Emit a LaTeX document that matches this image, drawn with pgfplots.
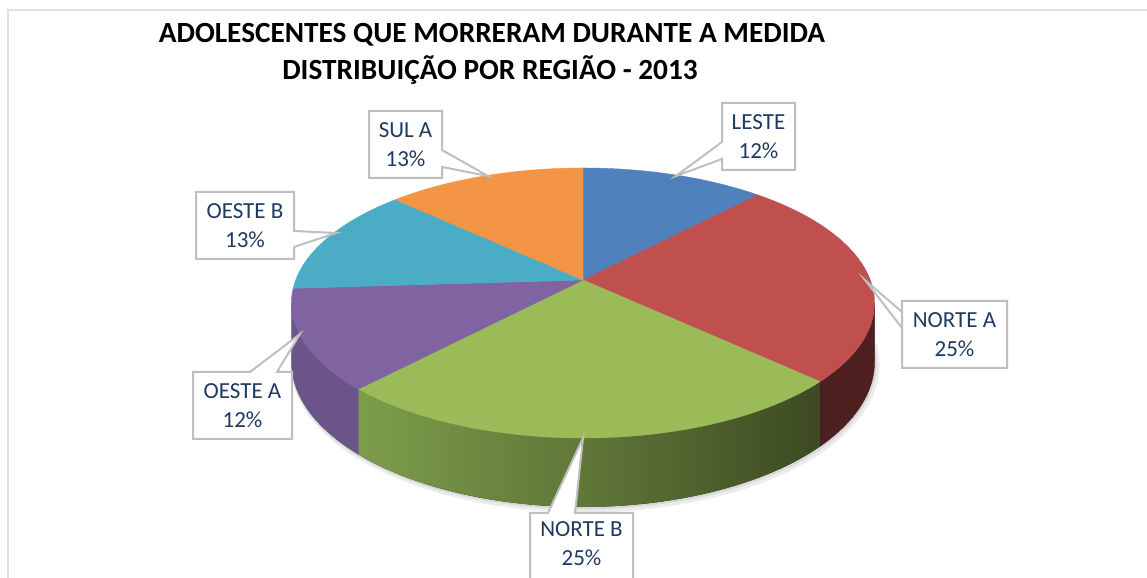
\documentclass[border=0pt]{standalone}
\usepackage{pgfplots}
\pgfplotsset{compat=1.18}
\usepgfplotslibrary{fillbetween}
\tikzset{fill between/on layer=main}
\usepackage{fontspec}
\setmainfont{Carlito}
\definecolor{cLeste}{HTML}{4F81BD}
\definecolor{cNorteA}{HTML}{C0504D}
\definecolor{cNorteB}{HTML}{9BBB59}
\definecolor{cOesteA}{HTML}{8064A2}
\definecolor{cOesteB}{HTML}{4BACC6}
\definecolor{cSulA}{HTML}{F39544}
\definecolor{sNorteA}{HTML}{4E1F1F}
\definecolor{sOesteA}{HTML}{6B5489}
\definecolor{sGreenL}{HTML}{7D9D4A}
\definecolor{sGreenM}{HTML}{5F7638}
\definecolor{sGreenR}{HTML}{3D4A22}
\definecolor{labtxt}{HTML}{1F3A60}
\definecolor{boxgray}{HTML}{BFBFBF}
\definecolor{frameblue}{HTML}{D6E2F1}
% percentages (clockwise from 12 o'clock)
\def\pLeste{12}\def\pNorteA{25}\def\pNorteB{25}\def\pOesteA{12}\def\pOesteB{13}\def\pSulA{13}
\pgfmathsetmacro\aA{90}
\pgfmathsetmacro\aB{\aA-3.6*\pLeste}
\pgfmathsetmacro\aC{\aB-3.6*\pNorteA}
\pgfmathsetmacro\aD{\aC-3.6*\pNorteB}
\pgfmathsetmacro\aE{\aD-3.6*\pOesteA}
\pgfmathsetmacro\aF{\aE-3.6*\pOesteB}
\pgfmathsetmacro\aG{\aF-3.6*\pSulA}
% perspective projection parameters (pixels)
\def\CX{583}\def\CY{298}\def\RX{287.3}\def\RY{131.1}\def\KK{0.1704}\def\HH{57.2}
\pgfmathsetmacro\sil{asin(\KK)}
\newcommand{\topx}{{\CX+\RX*cos(x)/(1+\KK*sin(x))}}
\newcommand{\topy}{{\CY+\RY*sin(x)/(1+\KK*sin(x))}}
\newcommand{\boty}{{\CY+(\RY*sin(x)-\HH)/(1+\KK*sin(x))}}
\newcommand{\slice}[3]{\addplot[fill=#1,draw=#1,line width=0.2pt,domain=#3:#2,samples=60] (\topx,\topy) -- (axis cs:\CX,\CY) -- cycle;}
\newcommand{\callout}[1]{\draw[boxgray,line width=1pt,fill=white] #1;}
\newcommand{\px}[2]{(axis cs:#1,{578-#2})}
\begin{document}
\begin{tikzpicture}
\begin{axis}[
  width=573.5pt, height=289pt, scale only axis,
  xmin=0, xmax=1147, ymin=0, ymax=578,
  hide axis, clip=true,
]
\fill[white] (axis cs:0,0) rectangle (axis cs:1147,578);
\draw[frameblue,line width=1pt] \px{8}{10} rectangle \px{1170}{600};
% shadow
\addplot[draw=gray!15,line width=3pt,samples=80,domain={-178}:{-2}] ({\CX+\RX*cos(x)/(1+\KK*sin(x))+2},{\CY+(\RY*sin(x)-\HH)/(1+\KK*sin(x))-2.5});
\addplot[draw=gray!30,line width=1.2pt,samples=80,domain={-175}:{-5}] ({\CX+\RX*cos(x)/(1+\KK*sin(x))+1},{\CY+(\RY*sin(x)-\HH)/(1+\KK*sin(x))-1.2});
% sides
\addplot[draw=none,name path=tNA,domain=\aC:-\sil,samples=40] (\topx,\topy);
\addplot[draw=none,name path=bNA,domain=\aC:-\sil,samples=40] (\topx,\boty);
\addplot[fill=sNorteA,draw=sNorteA,line width=0.2pt] fill between[of=tNA and bNA];
\addplot[draw=none,name path=tNB,domain=\aD:\aC,samples=60] (\topx,\topy);
\addplot[draw=none,name path=bNB,domain=\aD:\aC,samples=60] (\topx,\boty);
\addplot[left color=sGreenL,right color=sGreenR,middle color=sGreenM] fill between[of=tNB and bNB];
\addplot[draw=none,name path=tOA,domain={-180+\sil}:\aD,samples=40] (\topx,\topy);
\addplot[draw=none,name path=bOA,domain={-180+\sil}:\aD,samples=40] (\topx,\boty);
\addplot[fill=sOesteA,draw=sOesteA,line width=0.2pt] fill between[of=tOA and bOA];
% top faces
\slice{cLeste}{\aA}{\aB}
\slice{cNorteA}{\aB}{\aC}
\slice{cNorteB}{\aC}{\aD}
\slice{cOesteA}{\aD}{\aE}
\slice{cOesteB}{\aE}{\aF}
\slice{cSulA}{\aF}{\aG}
% title
\node[anchor=base,font=\fontsize{14.65}{17}\selectfont\bfseries] at \px{492}{43} {ADOLESCENTES QUE MORRERAM DURANTE A MEDIDA};
\node[anchor=base,font=\fontsize{14.65}{17}\selectfont\bfseries] at \px{490}{80} {DISTRIBUIÇÃO POR REGIÃO - 2013};
% callouts
\callout{\px{722}{103} -- \px{795}{103} -- \px{795}{170} -- \px{722}{170} -- \px{722}{159} -- \px{676}{176} -- \px{722}{142} -- cycle}
\callout{\px{369}{111} -- \px{442}{111} -- \px{442}{150} -- \px{488}{176} -- \px{442}{167} -- \px{442}{178} -- \px{369}{178} -- cycle}
\callout{\px{196}{192} -- \px{294}{192} -- \px{294}{231} -- \px{336}{233} -- \px{294}{247} -- \px{294}{259} -- \px{196}{259} -- cycle}
\callout{\px{193}{372} -- \px{250}{372} -- \px{300}{334} -- \px{277}{372} -- \px{292}{372} -- \px{292}{439} -- \px{193}{439} -- cycle}
\callout{\px{902}{301} -- \px{902}{312} -- \px{865}{280} -- \px{902}{328} -- \px{902}{301} -- \px{1007}{301} -- \px{1007}{368} -- \px{902}{368} -- cycle}
\callout{\px{530}{513} -- \px{548}{513} -- \px{583}{438} -- \px{575}{513} -- \px{633}{513} -- \px{633}{600} -- \px{530}{600} -- cycle}
\tikzset{lab/.style={text=labtxt,align=center,font=\fontsize{11.5}{14.5}\selectfont,inner sep=0pt}}
\node[lab] at \px{758.5}{137} {LESTE\\12\%};
\node[lab] at \px{405.5}{145} {SUL A\\13\%};
\node[lab] at \px{245}{226} {OESTE B\\13\%};
\node[lab] at \px{242.5}{406} {OESTE A\\12\%};
\node[lab] at \px{954.5}{335} {NORTE A\\25\%};
\node[lab,anchor=north] at \px{581.5}{521} {NORTE B\\25\%};
\end{axis}
\end{tikzpicture}
\end{document}
